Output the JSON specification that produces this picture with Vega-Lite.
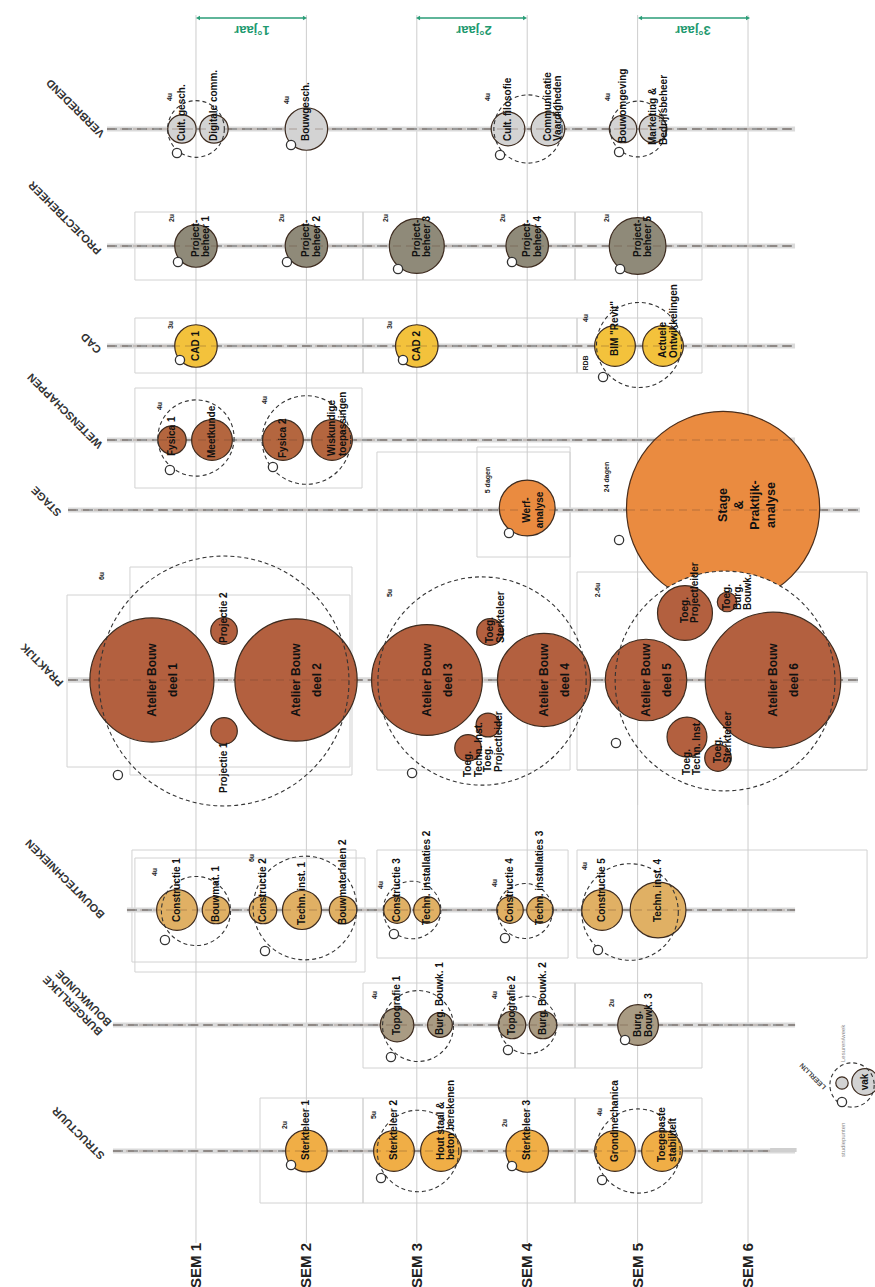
{
"$schema": "https://vega.github.io/schema/vega-lite/v6.json",
"width": 875, "height": 1287, "padding": 0, "autosize": {"type": "none"},
"background": "white",
"config": {"view": {"stroke": null}, "text": {"font": "Liberation Sans"}},
"datasets": {
"sems": [{"x":1,"t":"SEM 1","y":15,"y2":1243,"ly":1243},{"x":2,"t":"SEM 2","y":15,"y2":1243,"ly":1243},{"x":3,"t":"SEM 3","y":15,"y2":1243,"ly":1243},{"x":4,"t":"SEM 4","y":15,"y2":1243,"ly":1243},{"x":5,"t":"SEM 5","y":15,"y2":1243,"ly":1243},{"x":6,"t":"SEM 6","y":15,"y2":1243,"ly":1243}],
"relines": [{"x":4.451,"x2":7.078,"y":770,"y2":770},{"x":5,"x2":5,"y":578,"y2":805},{"x":6,"x2":6,"y":616,"y2":805}],
"rows": [
{"cat":"VERBREDEND","label":"VERBREDEND","y":129,"x":0.194,"x2":6.426,"lx":0.158,"ly":135},
{"cat":"PROJECTBEHEER","label":"PROJECTBEHEER","y":246,"x":0.194,"x2":6.426,"lx":0.13,"ly":252},
{"cat":"CAD","label":"CAD","y":346,"x":0.194,"x2":6.426,"lx":0.13,"ly":351},
{"cat":"WETENSCHAPPEN","label":"WETENSCHAPPEN","y":440,"x":0.194,"x2":6.426,"lx":0.14,"ly":446},
{"cat":"STAGE","label":"STAGE","y":510,"x":-0.159,"x2":7.014,"lx":-0.232,"ly":514},
{"cat":"PRAKTIJK","label":"PRAKTIJK","y":680,"x":-0.159,"x2":6.996,"lx":-0.214,"ly":684},
{"cat":"BOUWTECHNIEKEN","label":"BOUWTECHNIEKEN","y":910,"x":0.375,"x2":6.426,"lx":0.158,"ly":916},
{"cat":"BURGERLIJKE BOUWKUNDE","label":"BURGERLIJKE\nBOUWKUNDE","y":1025,"x":0.248,"x2":6.426,"lx":0.14,"ly":1033},
{"cat":"STRUCTUUR","label":"STRUCTUUR","y":1151,"x":0.248,"x2":6.426,"lx":0.158,"ly":1157}
],
"boxes": [
{"x":0.447,"x2":2.513,"y":212,"y2":280},{"x":2.513,"x2":4.433,"y":212,"y2":280},{"x":4.433,"x2":5.583,"y":212,"y2":280},
{"x":0.447,"x2":2.513,"y":318,"y2":373},{"x":2.513,"x2":4.451,"y":318,"y2":373},{"x":4.451,"x2":5.583,"y":318,"y2":373},
{"x":0.447,"x2":2.504,"y":388,"y2":488},
{"x":2.639,"x2":4.388,"y":452,"y2":770},{"x":3.545,"x2":4.388,"y":447,"y2":557},
{"x":-0.168,"x2":2.395,"y":595,"y2":767},{"x":0.402,"x2":2.413,"y":567,"y2":775},
{"x":4.451,"x2":7.078,"y":572,"y2":770},
{"x":0.42,"x2":2.45,"y":850,"y2":962},{"x":0.447,"x2":2.531,"y":858,"y2":972},{"x":2.639,"x2":4.37,"y":850,"y2":958},{"x":4.451,"x2":7.078,"y":850,"y2":958},
{"x":2.513,"x2":4.433,"y":983,"y2":1068},{"x":4.433,"x2":5.583,"y":983,"y2":1068},
{"x":1.58,"x2":2.513,"y":1098,"y2":1203},{"x":2.513,"x2":4.433,"y":1098,"y2":1203},{"x":4.433,"x2":5.583,"y":1098,"y2":1203}
],
"groups": [
{"x":1.0,"y":129,"d":64},{"x":4.007,"y":129,"d":77},{"x":5.004,"y":129,"d":63},
{"x":5.013,"y":345,"d":96},
{"x":1.0,"y":438,"d":86},{"x":2.0,"y":440,"d":100},
{"x":1.254,"y":681,"d":282},{"x":3.591,"y":681,"d":235},{"x":5.792,"y":681,"d":248},
{"x":1.0,"y":911,"d":78},{"x":1.987,"y":908,"d":117},{"x":2.957,"y":910,"d":65},{"x":3.98,"y":911,"d":62},{"x":4.931,"y":912,"d":109},
{"x":3.011,"y":1026,"d":80},{"x":4.007,"y":1025,"d":65},
{"x":3.011,"y":1151,"d":92},{"x":5.004,"y":1151,"d":95},
{"x":6.942,"y":1085,"d":50}
],
"courses": [
{"cat":"VERBREDEND","name":"Cult. gesch.","x":0.873,"y":129,"d":32,"ty":141,"al":"l"},
{"cat":"VERBREDEND","name":"Digitale comm.","x":1.163,"y":129,"d":32,"ty":141,"al":"l"},
{"cat":"VERBREDEND","name":"Bouwgesch.","x":2.0,"y":129,"d":48,"ty":141,"al":"l"},
{"cat":"VERBREDEND","name":"Cult. filosofie","x":3.826,"y":129,"d":38,"ty":141,"al":"l"},
{"cat":"VERBREDEND","name":"Communicatie\nVaardigheden","x":4.188,"y":129,"d":38,"ty":141,"al":"l"},
{"cat":"VERBREDEND","name":"Bouwomgeving","x":4.868,"y":129,"d":31,"ty":143,"al":"l"},
{"cat":"VERBREDEND","name":"Marketing &\nBedrijfsbeheer","x":5.14,"y":129,"d":31,"ty":145,"al":"l"},
{"cat":"PROJECTBEHEER","name":"Project-\nbeheer 1","x":1.0,"y":246,"d":48,"ty":257,"al":"l"},
{"cat":"PROJECTBEHEER","name":"Project-\nbeheer 2","x":2.0,"y":246,"d":48,"ty":257,"al":"l"},
{"cat":"PROJECTBEHEER","name":"Project-\nbeheer 3","x":3.0,"y":246,"d":62,"ty":257,"al":"l"},
{"cat":"PROJECTBEHEER","name":"Project-\nbeheer 4","x":4.0,"y":246,"d":48,"ty":257,"al":"l"},
{"cat":"PROJECTBEHEER","name":"Project-\nbeheer 5","x":5.0,"y":246,"d":64,"ty":257,"al":"l"},
{"cat":"CAD","name":"CAD 1","x":1.0,"y":346,"d":48,"ty":346,"al":"c"},
{"cat":"CAD","name":"CAD 2","x":3.0,"y":346,"d":48,"ty":346,"al":"c"},
{"cat":"CAD","name":"BIM \"Revit\"","x":4.795,"y":346,"d":46,"ty":356,"al":"l"},
{"cat":"CAD","name":"Actuele\nOntwikkelingen","x":5.23,"y":346,"d":46,"ty":358,"al":"l"},
{"cat":"WETENSCHAPPEN","name":"Fysica 1","x":0.783,"y":440,"d":32,"ty":456,"al":"l"},
{"cat":"WETENSCHAPPEN","name":"Meetkunde","x":1.145,"y":440,"d":46,"ty":458,"al":"l"},
{"cat":"WETENSCHAPPEN","name":"Fysica 2","x":1.788,"y":440,"d":46,"ty":458,"al":"l"},
{"cat":"WETENSCHAPPEN","name":"Wiskundige\ntoepassingen","x":2.232,"y":440,"d":46,"ty":456,"al":"l"},
{"cat":"STAGE","name":"Werf-\nanalyse","x":4.0,"y":508,"d":63,"ty":510,"al":"c"},
{"cat":"STAGE","name":"Stage\n&\nPraktijk-\nanalyse","x":5.774,"y":508,"d":218,"ty":505,"al":"c"},
{"cat":"PRAKTIJK","name":"Atelier Bouw\ndeel 1","x":0.601,"y":680,"d":140,"ty":680,"al":"c"},
{"cat":"PRAKTIJK","name":"Projectie 2","x":1.254,"y":631,"d":30,"ty":643,"al":"l"},
{"cat":"PRAKTIJK","name":"Projectie 1","x":1.254,"y":731,"d":30,"ty":793,"al":"l"},
{"cat":"PRAKTIJK","name":"Atelier Bouw\ndeel 2","x":1.906,"y":680,"d":138,"ty":680,"al":"c"},
{"cat":"PRAKTIJK","name":"Atelier Bouw\ndeel 3","x":3.092,"y":680,"d":125,"ty":680,"al":"c"},
{"cat":"PRAKTIJK","name":"Atelier Bouw\ndeel 4","x":4.152,"y":680,"d":105,"ty":680,"al":"c"},
{"cat":"PRAKTIJK","name":"Toeg.\nSterkteleer","x":3.663,"y":632,"d":30,"ty":643,"al":"l"},
{"cat":"PRAKTIJK","name":"Toeg.\nProjectleider","x":3.645,"y":725,"d":27,"ty":772,"al":"l"},
{"cat":"PRAKTIJK","name":"Toeg.\nTechn. Inst.","x":3.464,"y":748,"d":30,"ty":777,"al":"l"},
{"cat":"PRAKTIJK","name":"Atelier Bouw\ndeel 5","x":5.076,"y":680,"d":92,"ty":680,"al":"c"},
{"cat":"PRAKTIJK","name":"Atelier Bouw\ndeel 6","x":6.226,"y":680,"d":153,"ty":680,"al":"c"},
{"cat":"PRAKTIJK","name":"Toeg.\nProjectleider","x":5.429,"y":613,"d":62,"ty":623,"al":"l"},
{"cat":"PRAKTIJK","name":"Toeg.\nBurg.\nBouwk.","x":5.81,"y":602,"d":22,"ty":610,"al":"l"},
{"cat":"PRAKTIJK","name":"Toeg.\nTechn. Inst.","x":5.447,"y":737,"d":45,"ty":775,"al":"l"},
{"cat":"PRAKTIJK","name":"Toeg.\nSterkteleer","x":5.728,"y":758,"d":30,"ty":763,"al":"l"},
{"cat":"BOUWTECHNIEKEN","name":"Constructie 1","x":0.828,"y":910,"d":46,"ty":922,"al":"l"},
{"cat":"BOUWTECHNIEKEN","name":"Bouwmat. 1","x":1.181,"y":910,"d":31,"ty":922,"al":"l"},
{"cat":"BOUWTECHNIEKEN","name":"Constructie 2","x":1.607,"y":910,"d":31,"ty":922,"al":"l"},
{"cat":"BOUWTECHNIEKEN","name":"Techn. inst. 1","x":1.96,"y":910,"d":44,"ty":925,"al":"l"},
{"cat":"BOUWTECHNIEKEN","name":"Bouwmaterialen 2","x":2.332,"y":910,"d":31,"ty":925,"al":"l"},
{"cat":"BOUWTECHNIEKEN","name":"Constructie 3","x":2.821,"y":910,"d":30,"ty":922,"al":"l"},
{"cat":"BOUWTECHNIEKEN","name":"Techn. installaties 2","x":3.092,"y":910,"d":30,"ty":925,"al":"l"},
{"cat":"BOUWTECHNIEKEN","name":"Constructie 4","x":3.844,"y":910,"d":30,"ty":922,"al":"l"},
{"cat":"BOUWTECHNIEKEN","name":"Techn. installaties 3","x":4.116,"y":910,"d":30,"ty":925,"al":"l"},
{"cat":"BOUWTECHNIEKEN","name":"Constructie 5","x":4.678,"y":910,"d":46,"ty":922,"al":"l"},
{"cat":"BOUWTECHNIEKEN","name":"Techn. inst. 4","x":5.185,"y":910,"d":63,"ty":922,"al":"l"},
{"cat":"BURGERLIJKE BOUWKUNDE","name":"Topografie 1","x":2.821,"y":1025,"d":38,"ty":1035,"al":"l"},
{"cat":"BURGERLIJKE BOUWKUNDE","name":"Burg. Bouwk. 1","x":3.21,"y":1025,"d":28,"ty":1035,"al":"l"},
{"cat":"BURGERLIJKE BOUWKUNDE","name":"Topografie 2","x":3.862,"y":1025,"d":31,"ty":1035,"al":"l"},
{"cat":"BURGERLIJKE BOUWKUNDE","name":"Burg. Bouwk. 2","x":4.143,"y":1025,"d":31,"ty":1035,"al":"l"},
{"cat":"BURGERLIJKE BOUWKUNDE","name":"Burg.\nBouwk. 3","x":5.004,"y":1025,"d":46,"ty":1037,"al":"l"},
{"cat":"STRUCTUUR","name":"Sterkteleer 1","x":2.0,"y":1151,"d":47,"ty":1160,"al":"l"},
{"cat":"STRUCTUUR","name":"Sterkteleer 2","x":2.793,"y":1151,"d":46,"ty":1160,"al":"l"},
{"cat":"STRUCTUUR","name":"Hout staal &\nbeton berekenen","x":3.219,"y":1151,"d":46,"ty":1160,"al":"l"},
{"cat":"STRUCTUUR","name":"Sterkteleer 3","x":4.0,"y":1151,"d":48,"ty":1160,"al":"l"},
{"cat":"STRUCTUUR","name":"Grondmechanica","x":4.795,"y":1151,"d":46,"ty":1162,"al":"l"},
{"cat":"STRUCTUUR","name":"Toegepaste\nstabiliteit","x":5.221,"y":1151,"d":46,"ty":1162,"al":"l"},
{"cat":"VERBREDEND","name":"vak","x":7.06,"y":1082,"d":30,"ty":1082,"al":"c"},
{"cat":"VERBREDEND","name":"","x":6.851,"y":1083,"d":14,"ty":1083,"al":"c"}
],
"icons": [
{"x":0.828,"y":153},{"x":1.861,"y":145},{"x":3.754,"y":155},{"x":4.832,"y":152},
{"x":0.837,"y":262},{"x":1.824,"y":262},{"x":2.83,"y":269},{"x":3.862,"y":262},{"x":4.841,"y":269},
{"x":0.855,"y":360},{"x":2.875,"y":360},{"x":4.687,"y":377},
{"x":0.764,"y":470},{"x":1.697,"y":467},
{"x":3.835,"y":533},{"x":4.832,"y":540},
{"x":0.293,"y":775},{"x":2.957,"y":773},{"x":4.804,"y":743},
{"x":0.719,"y":940},{"x":1.625,"y":951},{"x":2.793,"y":934},{"x":3.799,"y":938},{"x":4.641,"y":950},
{"x":2.766,"y":1057},{"x":3.826,"y":1050},{"x":4.886,"y":1040},
{"x":1.861,"y":1165},{"x":2.676,"y":1178},{"x":3.862,"y":1166},{"x":4.678,"y":1180},
{"x":6.851,"y":1102}
],
"hours": [
{"x":0.764,"y":97,"t":"4u"},{"x":1.824,"y":100,"t":"4u"},{"x":3.645,"y":97,"t":"4u"},{"x":4.732,"y":97,"t":"4u"},
{"x":0.783,"y":218,"t":"2u"},{"x":1.779,"y":218,"t":"2u"},{"x":2.721,"y":218,"t":"2u"},{"x":3.781,"y":218,"t":"2u"},{"x":4.723,"y":218,"t":"2u"},
{"x":0.774,"y":325,"t":"3u"},{"x":2.757,"y":325,"t":"3u"},{"x":4.533,"y":318,"t":"4u"},{"x":4.533,"y":363,"t":"RDB"},
{"x":0.674,"y":406,"t":"4u"},{"x":1.625,"y":400,"t":"4u"},
{"x":3.645,"y":480,"t":"5 dagen"},{"x":4.723,"y":477,"t":"24 dagen"},
{"x":0.149,"y":576,"t":"6u"},{"x":2.757,"y":593,"t":"5u"},{"x":4.641,"y":590,"t":"2-6u"},
{"x":0.629,"y":872,"t":"4u"},{"x":1.507,"y":858,"t":"6u"},{"x":2.676,"y":885,"t":"4u"},{"x":3.708,"y":883,"t":"4u"},{"x":4.524,"y":866,"t":"4u"},
{"x":2.621,"y":995,"t":"4u"},{"x":3.708,"y":995,"t":"4u"},{"x":4.768,"y":1003,"t":"2u"},
{"x":1.806,"y":1125,"t":"2u"},{"x":2.612,"y":1115,"t":"5u"},{"x":3.799,"y":1123,"t":"2u"},{"x":4.659,"y":1112,"t":"4u"}
],
"years": [
{"t":"1°jaar","x":1.018,"x2":1.987,"c":1.507,"y":18,"ty":30},
{"t":"2°jaar","x":3.011,"x2":3.98,"c":3.518,"y":18,"ty":30},
{"t":"3°jaar","x":5.022,"x2":6.0,"c":5.502,"y":18,"ty":30}
]
},
"encoding": {
"x": {"field":"x","type":"quantitative","scale":{"domain":[-0.775,7.15],"nice":false,"zero":false},"axis":null},
"y": {"field":"y","type":"quantitative","scale":{"domain":[0,1287],"reverse":true,"nice":false,"zero":false},"axis":null}
},
"layer": [
{"data":{"name":"boxes"},"mark":{"type":"rect","filled":false,"stroke":"#d2d2d2","strokeWidth":1},
 "encoding":{"x2":{"field":"x2"},"y2":{"field":"y2"}}},
{"data":{"name":"sems"},"mark":{"type":"rule","color":"#cdcdcd","strokeWidth":1},
 "encoding":{"y2":{"field":"y2"}}},
{"data":{"name":"rows"},"mark":{"type":"rule","color":"#dadada","strokeWidth":5},
 "encoding":{"x2":{"field":"x2"}}},
{"data":{"name":"rows"},"mark":{"type":"rule","color":"#9a9a9a","strokeWidth":2,"strokeDash":[10,5]},
 "encoding":{"x2":{"field":"x2"}}},
{"data":{"name":"courses"},"transform":[{"filter":"datum.d > 200"}],
 "mark":{"type":"circle","opacity":1,"stroke":"#4a2e1c","strokeWidth":1.2},
 "encoding":{
  "size":{"field":"d","type":"quantitative","scale":{"type":"pow","exponent":2,"domain":[0,300],"range":[0,70686]},"legend":null},
  "color":{"field":"cat","type":"nominal","scale":{"domain":["VERBREDEND","PROJECTBEHEER","CAD","WETENSCHAPPEN","STAGE","PRAKTIJK","BOUWTECHNIEKEN","BURGERLIJKE BOUWKUNDE","STRUCTUUR"],"range":["#d3d3d3","#8f8a79","#f3c23c","#b4663f","#ea8b40","#b3603f","#e0b064","#a99b83","#f0ae46"]},"legend":null}}},
{"data":{"name":"groups"},"transform":[{"filter":"datum.x > 5.5 && datum.y > 600 && datum.y < 760"}],
 "mark":{"type":"circle","color":"white","opacity":1},
 "encoding":{"size":{"field":"d","type":"quantitative","scale":{"type":"pow","exponent":2,"domain":[0,300],"range":[0,70686]},"legend":null}}},
{"data":{"name":"relines"},"mark":{"type":"rule","color":"#cdcdcd","strokeWidth":1},
 "encoding":{"x2":{"field":"x2"},"y2":{"field":"y2"}}},
{"data":{"name":"rows"},"transform":[{"filter":"datum.cat == 'PRAKTIJK'"}],"mark":{"type":"rule","color":"#dadada","strokeWidth":5},
 "encoding":{"x2":{"field":"x2"}}},
{"data":{"name":"rows"},"transform":[{"filter":"datum.cat == 'PRAKTIJK'"}],"mark":{"type":"rule","color":"#9a9a9a","strokeWidth":2,"strokeDash":[10,5]},
 "encoding":{"x2":{"field":"x2"}}},
{"data":{"name":"courses"},"transform":[{"filter":"datum.d <= 200"}],
 "mark":{"type":"circle","opacity":1,"stroke":"#3d2b1f","strokeWidth":1.2},
 "encoding":{
  "size":{"field":"d","type":"quantitative","scale":{"type":"pow","exponent":2,"domain":[0,300],"range":[0,70686]},"legend":null},
  "color":{"field":"cat","type":"nominal","scale":{"domain":["VERBREDEND","PROJECTBEHEER","CAD","WETENSCHAPPEN","STAGE","PRAKTIJK","BOUWTECHNIEKEN","BURGERLIJKE BOUWKUNDE","STRUCTUUR"],"range":["#d3d3d3","#8f8a79","#f3c23c","#b4663f","#ea8b40","#b3603f","#e0b064","#a99b83","#f0ae46"]},"legend":null}}},
{"data":{"name":"rows"},"mark":{"type":"rule","color":"#5b3b28","strokeWidth":1,"opacity":0.35,"strokeDash":[8,5]},
 "encoding":{"x2":{"field":"x2"}}},
{"data":{"name":"groups"},"mark":{"type":"circle","filled":false,"stroke":"#333333","strokeWidth":1.1,"strokeDash":[4,3],"opacity":1},
 "encoding":{"size":{"field":"d","type":"quantitative","scale":{"type":"pow","exponent":2,"domain":[0,300],"range":[0,70686]},"legend":null}}},
{"data":{"name":"icons"},"mark":{"type":"circle","size":85,"fill":"white","stroke":"#333333","strokeWidth":1.3,"opacity":1}},
{"data":{"name":"hours"},"mark":{"type":"text","angle":270,"align":"center","baseline":"middle","fontSize":7,"fontWeight":"bold","color":"#222"},
 "encoding":{"text":{"field":"t"}}},
{"data":{"name":"courses"},"transform":[{"filter":"datum.al == 'l'"}],
 "mark":{"type":"text","angle":270,"align":"left","baseline":"middle","fontSize":10,"fontWeight":"bold","lineHeight":10.5,"lineBreak":"\n","color":"#111"},
 "encoding":{"y":{"field":"ty","type":"quantitative","scale":{"domain":[0,1287],"reverse":true,"nice":false,"zero":false},"axis":null},"text":{"field":"name"}}},
{"data":{"name":"courses"},"transform":[{"filter":"datum.al == 'c' && datum.d < 90"}],
 "mark":{"type":"text","angle":270,"align":"center","baseline":"middle","fontSize":10,"fontWeight":"bold","lineHeight":13,"lineBreak":"\n","color":"#111"},
 "encoding":{"y":{"field":"ty","type":"quantitative","scale":{"domain":[0,1287],"reverse":true,"nice":false,"zero":false},"axis":null},"text":{"field":"name"}}},
{"data":{"name":"courses"},"transform":[{"filter":"datum.al == 'c' && datum.d >= 90 && datum.d <= 200"}],
 "mark":{"type":"text","angle":270,"align":"center","baseline":"middle","fontSize":12,"fontWeight":"bold","lineHeight":21,"lineBreak":"\n","color":"#111"},
 "encoding":{"y":{"field":"ty","type":"quantitative","scale":{"domain":[0,1287],"reverse":true,"nice":false,"zero":false},"axis":null},"text":{"field":"name"}}},
{"data":{"name":"courses"},"transform":[{"filter":"datum.d > 200"}],
 "mark":{"type":"text","angle":270,"align":"center","baseline":"middle","fontSize":12.5,"fontWeight":"bold","lineHeight":16,"lineBreak":"\n","color":"#111"},
 "encoding":{"y":{"field":"ty","type":"quantitative","scale":{"domain":[0,1287],"reverse":true,"nice":false,"zero":false},"axis":null},"text":{"field":"name"}}},
{"data":{"name":"rows"},"mark":{"type":"text","angle":225,"align":"left","baseline":"middle","fontSize":11,"fontWeight":"bold","lineHeight":13,"lineBreak":"\n","color":"#333"},
 "encoding":{"x":{"field":"lx","type":"quantitative","scale":{"domain":[-0.775,7.15],"nice":false,"zero":false},"axis":null},
  "y":{"field":"ly","type":"quantitative","scale":{"domain":[0,1287],"reverse":true,"nice":false,"zero":false},"axis":null},"text":{"field":"label"}}},
{"data":{"name":"sems"},"mark":{"type":"text","angle":270,"align":"right","baseline":"middle","fontSize":15,"fontWeight":"bold","color":"#222"},
 "encoding":{"y":{"field":"ly","type":"quantitative","scale":{"domain":[0,1287],"reverse":true,"nice":false,"zero":false},"axis":null},"text":{"field":"t"}}},
{"data":{"name":"years"},"mark":{"type":"rule","color":"#2a9d77","strokeWidth":1.5},
 "encoding":{"x2":{"field":"x2"}}},
{"data":{"name":"years"},"mark":{"type":"point","shape":"triangle-left","filled":true,"size":22,"color":"#2a9d77","opacity":1}},
{"data":{"name":"years"},"mark":{"type":"point","shape":"triangle-right","filled":true,"size":22,"color":"#2a9d77","opacity":1},
 "encoding":{"x":{"field":"x2","type":"quantitative","scale":{"domain":[-0.775,7.15],"nice":false,"zero":false},"axis":null}}},
{"data":{"name":"years"},"mark":{"type":"text","angle":180,"align":"center","baseline":"middle","fontSize":13,"fontWeight":"bold","color":"#1f9a70"},
 "encoding":{"x":{"field":"c","type":"quantitative","scale":{"domain":[-0.775,7.15],"nice":false,"zero":false},"axis":null},"y":{"field":"ty","type":"quantitative","scale":{"domain":[0,1287],"reverse":true,"nice":false,"zero":false},"axis":null},"text":{"field":"t"}}},
{"data":{"values":[{"x":6.2,"x2":6.44,"y":1150}]},"mark":{"type":"rule","color":"#cfcfcf","strokeWidth":4},
 "encoding":{"x2":{"field":"x2"}}},
{"data":{"values":[{"x":6.697,"y":1088,"t":"LEERLIJN"}]},"mark":{"type":"text","angle":225,"align":"left","baseline":"middle","fontSize":7,"fontWeight":"bold","color":"#444"},
 "encoding":{"text":{"field":"t"}}},
{"data":{"values":[{"x":6.86,"y":1062,"t":"Lesuren/week"},{"x":6.86,"y":1157,"t":"studiepunten"}]},"mark":{"type":"text","angle":270,"align":"left","baseline":"middle","fontSize":6,"color":"#888"},
 "encoding":{"text":{"field":"t"}}}
]
}
